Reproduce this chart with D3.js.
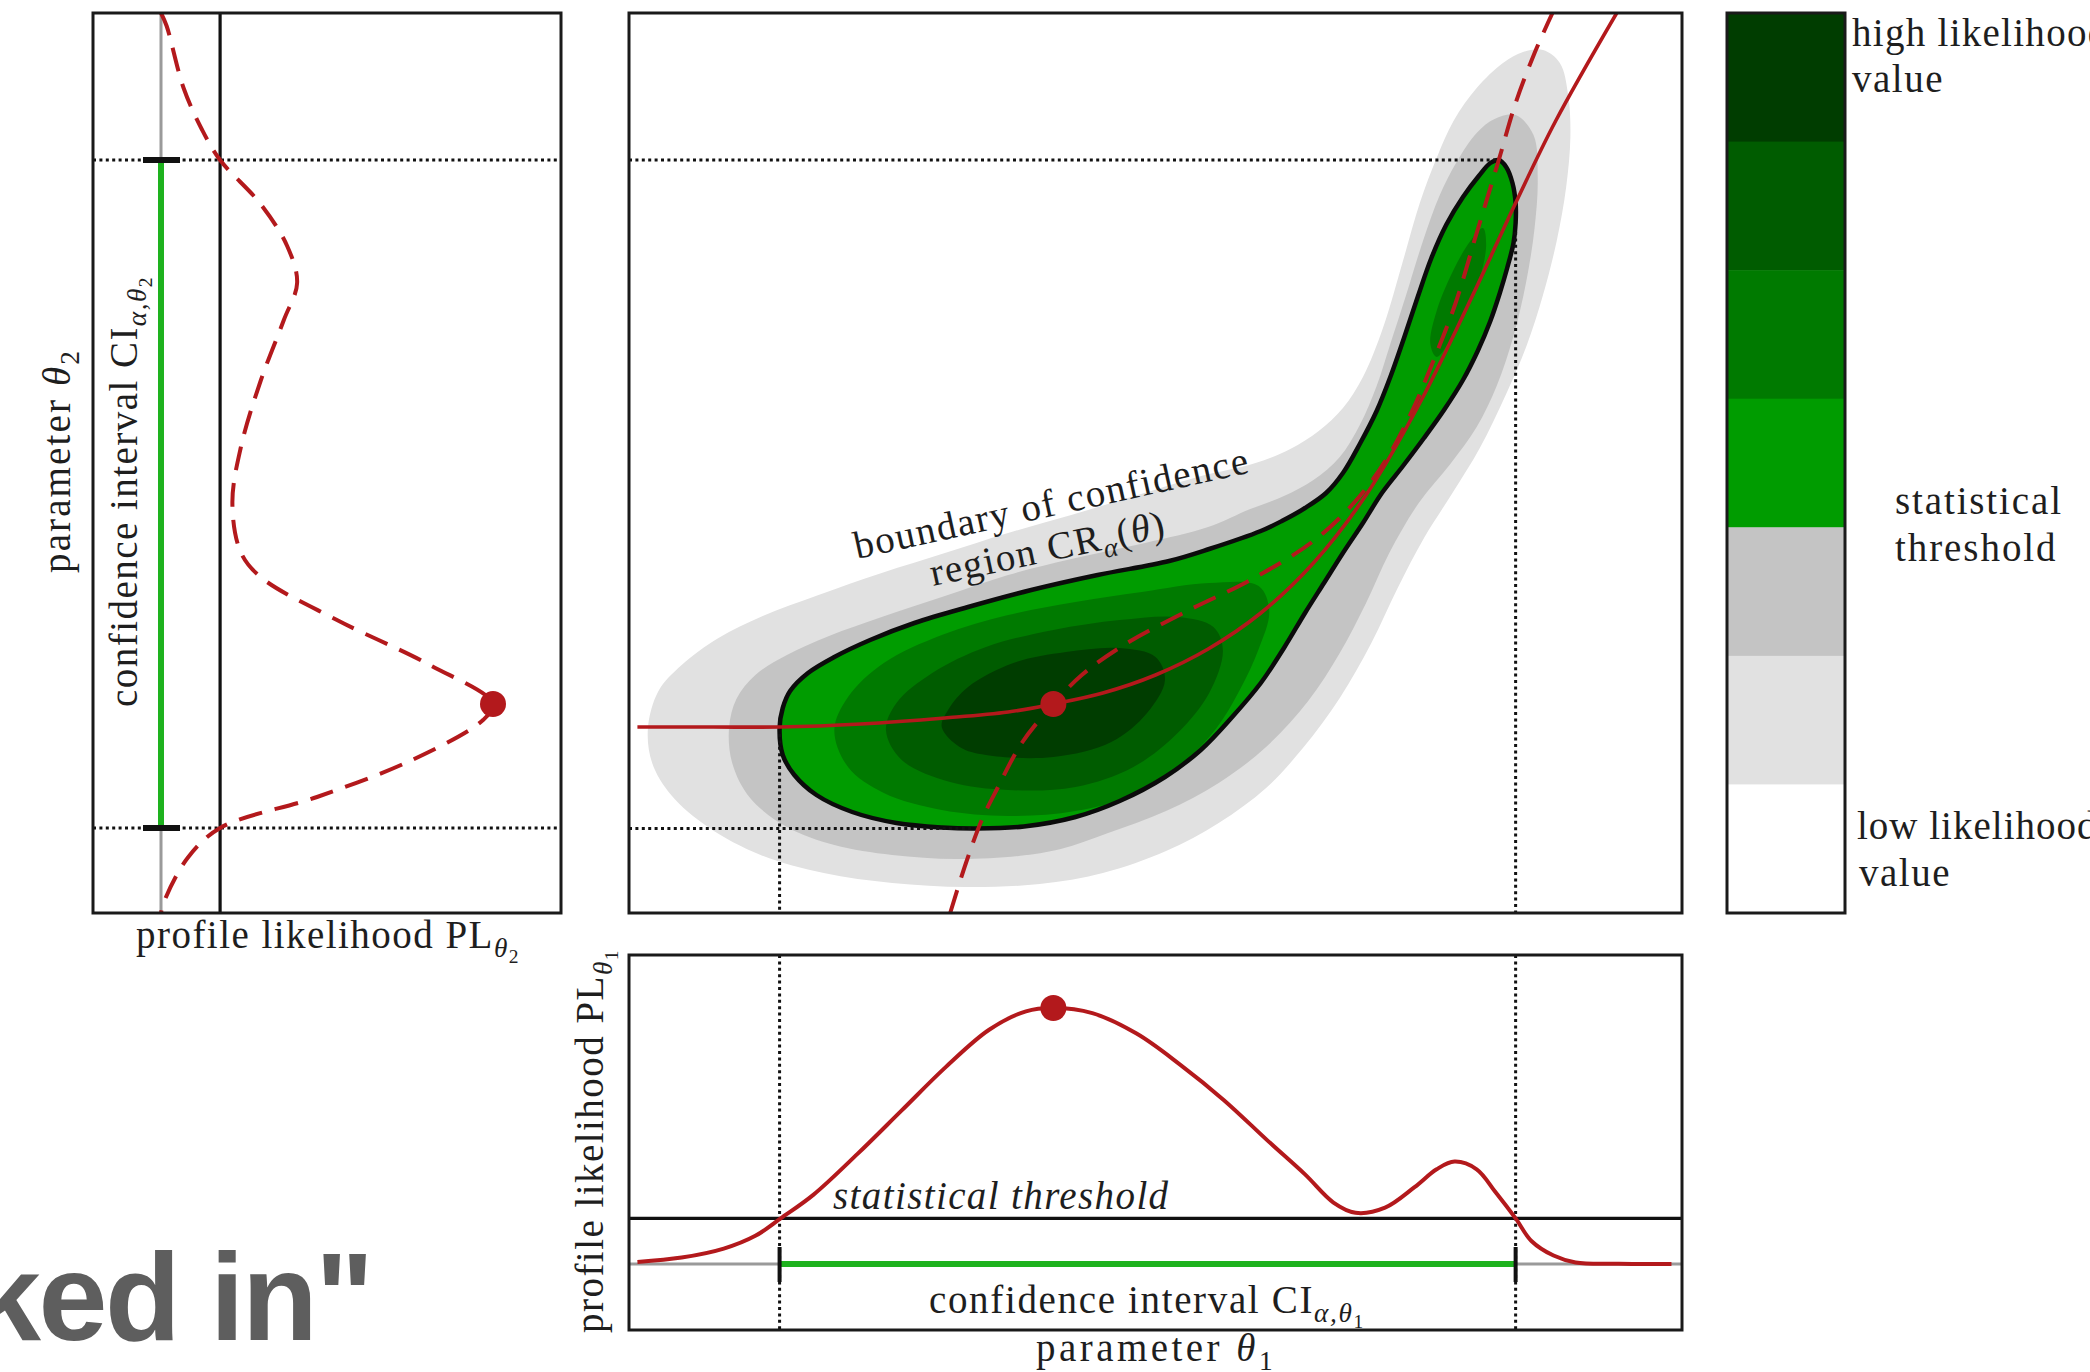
<!DOCTYPE html>
<html>
<head>
<meta charset="utf-8">
<script src="https://cdn.jsdelivr.net/npm/d3@7"></script>
<style>
  html, body { margin: 0; padding: 0; background: #fff; }
  svg { display: block; }
</style>
</head>
<body>
<svg id="fig" width="2090" height="1372"></svg>
<script>
// ---------------------------------------------------------------
// Profile likelihood of theta1 (bottom panel)
const pl1Theta1 = [0.08, 0.5, 0.9, 1.2, 1.44, 1.75, 2.17, 2.59, 3.01, 3.42, 3.77, 4.03, 4.40, 4.82, 5.23, 5.65, 6.07, 6.42, 6.69, 6.90, 7.18, 7.46, 7.67, 7.84, 8.05, 8.23, 8.42, 8.57, 8.78, 8.99, 9.40, 9.90];
const pl1Value  = [0.008, 0.025, 0.06, 0.11, 0.178, 0.27, 0.43, 0.60, 0.77, 0.915, 0.987, 1.0, 0.98, 0.90, 0.78, 0.64, 0.48, 0.35, 0.24, 0.20, 0.22, 0.30, 0.37, 0.40, 0.37, 0.28, 0.178, 0.09, 0.033, 0.006, 0.001, 0.0];

// Profile likelihood of theta2 (left panel)
const pl2Theta2 = [9.0, 8.87, 8.25, 7.83, 7.53, 7.09, 6.67, 6.30, 5.93, 5.32, 4.65, 4.10, 3.61, 3.36, 2.93, 2.48, 2.09, 1.93, 1.53, 1.16, 0.85, 0.55, 0.12, 0.0];
const pl2Value  = [0.0, 0.017, 0.068, 0.124, 0.178, 0.30, 0.38, 0.41, 0.37, 0.30, 0.24, 0.215, 0.24, 0.30, 0.53, 0.81, 1.0, 0.97, 0.756, 0.47, 0.178, 0.08, 0.01, 0.0];

// Statistical threshold, maximum likelihood estimate, confidence intervals
const threshold = 0.178;
const mle = [4.03, 2.09];
const ciTheta1 = [1.43, 8.42];
const ciTheta2 = [0.85, 7.53];
// points where the confidence region touches its bounding box
const regionLeft = [1.43, 1.85];
const regionRight = [8.42, 6.85];
const regionTop = [8.26, 7.53];
const regionBottom = [3.30, 0.845];

// Likelihood level sets in the (theta1, theta2) plane, outermost first
const contourOuter = [[0.18,1.85],[0.22,1.50],[0.40,1.18],[0.75,0.86],[1.25,0.58],[1.85,0.40],[2.5,0.30],[3.2,0.26],[3.9,0.29],[4.5,0.40],[5.1,0.62],[5.6,0.90],[6.05,1.25],[6.4,1.65],[6.75,2.15],[7.05,2.7],[7.3,3.25],[7.55,3.75],[7.82,4.2],[8.08,4.65],[8.33,5.19],[8.53,5.69],[8.68,6.18],[8.81,6.72],[8.90,7.26],[8.94,7.76],[8.92,8.17],[8.84,8.50],[8.68,8.63],[8.49,8.61],[8.30,8.50],[8.05,8.25],[7.83,7.92],[7.67,7.55],[7.51,7.10],[7.35,6.52],[7.16,5.85],[6.97,5.36],[6.78,5.05],[6.55,4.82],[6.28,4.64],[5.95,4.50],[5.4,4.36],[4.8,4.17],[4.2,3.98],[3.6,3.80],[3.0,3.60],[2.4,3.40],[1.8,3.18],[1.27,2.97],[0.85,2.75],[0.5,2.48],[0.28,2.22]];
const contourSecond = [[0.95,1.85],[0.98,1.50],[1.15,1.15],[1.50,0.86],[1.95,0.68],[2.5,0.58],[3.1,0.54],[3.7,0.57],[4.1,0.64],[4.55,0.80],[5.1,1.02],[5.6,1.30],[6.05,1.66],[6.45,2.12],[6.75,2.6],[7.0,3.1],[7.22,3.6],[7.5,4.1],[7.80,4.49],[8.05,4.86],[8.24,5.27],[8.40,5.77],[8.52,6.31],[8.60,6.85],[8.63,7.34],[8.59,7.78],[8.42,7.98],[8.22,7.94],[8.05,7.80],[7.86,7.51],[7.70,7.18],[7.54,6.72],[7.38,6.18],[7.23,5.69],[7.10,5.27],[6.94,4.88],[6.75,4.56],[6.50,4.33],[6.22,4.17],[5.9,4.04],[5.5,3.86],[4.9,3.70],[4.2,3.54],[3.6,3.38],[3.0,3.17],[2.4,2.96],[1.9,2.77],[1.5,2.58],[1.2,2.38],[1.02,2.14]];
const contourThreshold = [[1.43,1.85],[1.46,1.58],[1.57,1.38],[1.78,1.18],[2.12,1.01],[2.54,0.90],[2.97,0.855],[3.30,0.845],[3.75,0.865],[4.24,0.96],[4.66,1.12],[5.09,1.36],[5.43,1.63],[5.72,1.95],[6.0,2.3],[6.22,2.65],[6.42,3.0],[6.6,3.3],[6.78,3.6],[6.97,3.9],[7.15,4.2],[7.35,4.47],[7.55,4.75],[7.74,5.03],[7.92,5.33],[8.06,5.62],[8.18,5.92],[8.27,6.2],[8.34,6.45],[8.40,6.7],[8.42,6.9],[8.42,7.1],[8.39,7.3],[8.33,7.46],[8.26,7.53],[8.18,7.50],[8.07,7.37],[7.92,7.16],[7.76,6.88],[7.62,6.55],[7.49,6.16],[7.36,5.75],[7.23,5.36],[7.10,5.02],[6.94,4.69],[6.78,4.40],[6.62,4.20],[6.42,4.05],[6.2,3.92],[6.0,3.82],[5.51,3.64],[5.13,3.52],[4.45,3.38],[3.82,3.23],[3.22,3.06],[2.71,2.90],[2.29,2.73],[1.95,2.56],[1.70,2.40],[1.53,2.22],[1.46,2.05]];
const contourMid = [[1.95,1.83],[2.08,1.46],[2.42,1.20],[2.97,1.03],[3.60,0.97],[4.24,1.02],[4.79,1.18],[5.26,1.50],[5.58,1.85],[5.80,2.23],[5.98,2.64],[6.08,3.02],[5.98,3.27],[5.51,3.30],[4.87,3.21],[4.24,3.11],[3.60,2.98],[2.97,2.78],[2.42,2.50],[2.08,2.16]];
const contourMidArm = [[7.61,5.69],[7.67,6.02],[7.83,6.43],[7.99,6.72],[8.11,6.85],[8.14,6.68],[8.08,6.35],[7.95,6.02],[7.80,5.73],[7.67,5.56]];
const contourDark = [[2.44,1.83],[2.59,1.53],[3.05,1.31],[3.60,1.23],[4.24,1.26],[4.79,1.46],[5.21,1.80],[5.51,2.20],[5.64,2.63],[5.55,2.86],[5.21,2.96],[4.66,2.93],[4.03,2.83],[3.39,2.66],[2.88,2.40],[2.54,2.10]];
const contourDarkest = [[2.97,1.86],[3.14,1.66],[3.39,1.58],[4.03,1.56],[4.58,1.71],[4.92,2.00],[5.09,2.33],[5.00,2.56],[4.66,2.65],[4.15,2.61],[3.65,2.50],[3.22,2.26],[3.03,2.03]];

// Profile paths: theta2 maximising the likelihood for each theta1 (solid),
// theta1 maximising it for each theta2 (dashed)
const pathTheta1 = [[0.08,1.86],[0.8,1.86],[1.43,1.86],[2.2,1.89],[3.0,1.95],[3.6,2.01],[4.03,2.09],[4.5,2.2],[5.0,2.38],[5.5,2.64],[6.0,3.0],[6.5,3.5],[7.0,4.18],[7.5,5.08],[8.0,6.15],[8.42,7.1],[8.8,7.92],[9.38,9.0]];
const pathTheta2 = [[3.05,0.0],[3.2,0.5],[3.35,0.93],[3.5,1.25],[3.73,1.70],[4.03,2.09],[4.3,2.38],[4.7,2.68],[5.3,3.02],[5.9,3.33],[6.5,3.72],[6.9,4.12],[7.2,4.55],[7.45,5.05],[7.65,5.55],[7.85,6.1],[8.05,6.8],[8.26,7.53],[8.42,8.1],[8.6,8.6],[8.77,9.0]];

// Colour levels, high to low likelihood
const levelColors = ["#003d00", "#005c00", "#007a00", "#009c00", "#c4c4c4", "#e1e1e1", "#ffffff"];
const levelNames = ["l7", "l6", "l5", "l4", "l3", "l2", "l1"];

// ---------------------------------------------------------------
const svg = d3.select("#fig");
const SERIF = "'Liberation Serif', 'Times New Roman', serif";
const INK = "#1e1e1e";
const RED = "#b3191c";
const CIGREEN = "#1eb21e";

const leftBox   = {x0: 93,   x1: 561,  y0: 13,  y1: 913};
const mainBox   = {x0: 629,  x1: 1682, y0: 13,  y1: 913};
const bottomBox = {x0: 629,  x1: 1682, y0: 955, y1: 1330};
const barBox    = {x0: 1727, x1: 1845, y0: 13,  y1: 913};

const x1 = d3.scaleLinear().domain([0, 10]).range([mainBox.x0, mainBox.x1]);
const y2 = d3.scaleLinear().domain([0, 9]).range([mainBox.y1, mainBox.y0]);
const plX = d3.scaleLinear().domain([0, 1]).range([161, 493]);
const plY = d3.scaleLinear().domain([0, 1]).range([1264, 1008]);

const defs = svg.append("defs");
function clip(id, b) {
  defs.append("clipPath").attr("id", id).append("rect")
    .attr("x", b.x0).attr("y", b.y0).attr("width", b.x1 - b.x0).attr("height", b.y1 - b.y0);
}
clip("clipLeft", leftBox); clip("clipMain", mainBox); clip("clipBottom", bottomBox);

const dotted = sel => sel.attr("stroke", "#111").attr("stroke-width", 3).attr("stroke-dasharray", "3,3.4").attr("fill", "none");

function frame(b) {
  svg.append("rect").attr("x", b.x0).attr("y", b.y0)
    .attr("width", b.x1 - b.x0).attr("height", b.y1 - b.y0)
    .attr("fill", "none").attr("stroke", "#1a1a1a").attr("stroke-width", 3);
}

// text with sub/superscript pieces
function mathText(parent, parts, o) {
  const fs = o.size || 39;
  const t = parent.append("text")
    .attr("font-family", SERIF).attr("font-size", fs).attr("fill", INK)
    .attr("text-anchor", o.anchor || "start")
    .attr("transform", o.transform)
    .attr("font-style", o.italic ? "italic" : "normal");
  let cur = 0;
  parts.forEach(p => {
    const lvl = p.sub || 0;
    const off = [0, 0.22 * fs, 0.38 * fs][lvl];
    const size = [fs, 0.7 * fs, 0.5 * fs][lvl];
    t.append("tspan").attr("dy", off - cur).attr("font-size", size)
      .attr("font-style", p.it ? "italic" : null).text(p.t);
    cur = off;
  });
  if (o.width) {
    const w = t.node().getBBox().width;
    const n = t.node().textContent.length;
    t.style("letter-spacing", ((o.width - w) / n) + "px");
  }
  return t;
}

// ---------------------------------------------------------------
// Main panel: likelihood levels
const gMain = svg.append("g").attr("clip-path", "url(#clipMain)");
const ring = d3.line().x(d => x1(d[0])).y(d => y2(d[1])).curve(d3.curveCatmullRomClosed.alpha(0.5));
const fills = [
  [contourOuter, levelColors[5]],
  [contourSecond, levelColors[4]],
  [contourThreshold, levelColors[3]],
  [contourMid, levelColors[2]],
  [contourMidArm, levelColors[2]],
  [contourDark, levelColors[1]],
  [contourDarkest, levelColors[0]]
];
gMain.selectAll("path.level").data(fills).join("path").attr("class", "level")
  .attr("d", d => ring(d[0])).attr("fill", d => d[1]).attr("stroke", "none");
gMain.append("path").attr("d", ring(contourThreshold))
  .attr("fill", "none").attr("stroke", "#0b0b0b").attr("stroke-width", 4.5);

// guides to the confidence interval limits
gMain.append("line").call(dotted)
  .attr("x1", mainBox.x0).attr("x2", x1(regionTop[0])).attr("y1", y2(regionTop[1])).attr("y2", y2(regionTop[1]));
gMain.append("line").call(dotted)
  .attr("x1", mainBox.x0).attr("x2", x1(regionBottom[0])).attr("y1", y2(regionBottom[1])).attr("y2", y2(regionBottom[1]));
gMain.append("line").call(dotted)
  .attr("x1", x1(regionLeft[0])).attr("x2", x1(regionLeft[0])).attr("y1", y2(regionLeft[1]) + 6).attr("y2", mainBox.y1);
gMain.append("line").call(dotted)
  .attr("x1", x1(regionRight[0])).attr("x2", x1(regionRight[0])).attr("y1", y2(regionRight[1]) + 4).attr("y2", mainBox.y1);

// profile paths
const open = d3.line().x(d => x1(d[0])).y(d => y2(d[1])).curve(d3.curveCatmullRom.alpha(0.5));
gMain.append("path").attr("d", open(pathTheta2)).attr("fill", "none")
  .attr("stroke", RED).attr("stroke-width", 4).attr("stroke-dasharray", "24,13");
gMain.append("path").attr("d", open(pathTheta1)).attr("fill", "none")
  .attr("stroke", RED).attr("stroke-width", 3.6);
gMain.append("circle").attr("cx", x1(mle[0])).attr("cy", y2(mle[1])).attr("r", 13).attr("fill", RED);

mathText(svg, [{t: "boundary of confidence"}], {transform: "translate(857,559) rotate(-12.4)", width: 404});
mathText(svg, [{t: "region CR"}, {t: "α", sub: 1, it: true}, {t: "("}, {t: "θ", it: true}, {t: ")"}],
  {transform: "translate(933,586) rotate(-12)", width: 240});
frame(mainBox);

// ---------------------------------------------------------------
// Left panel: profile likelihood of theta2
const gLeft = svg.append("g").attr("clip-path", "url(#clipLeft)");
gLeft.append("line").attr("x1", plX(0)).attr("x2", plX(0)).attr("y1", leftBox.y0).attr("y2", leftBox.y1)
  .attr("stroke", "#9a9a9a").attr("stroke-width", 3);
gLeft.append("line").attr("x1", plX(threshold)).attr("x2", plX(threshold)).attr("y1", leftBox.y0).attr("y2", leftBox.y1)
  .attr("stroke", "#111").attr("stroke-width", 3.2);
ciTheta2.forEach(v => {
  gLeft.append("line").call(dotted).attr("x1", leftBox.x0).attr("x2", leftBox.x1).attr("y1", y2(v)).attr("y2", y2(v));
});
gLeft.append("line").attr("x1", plX(0)).attr("x2", plX(0)).attr("y1", y2(ciTheta2[0])).attr("y2", y2(ciTheta2[1]))
  .attr("stroke", CIGREEN).attr("stroke-width", 6);
ciTheta2.forEach(v => {
  gLeft.append("line").attr("x1", plX(0) - 18).attr("x2", plX(0) + 19).attr("y1", y2(v)).attr("y2", y2(v))
    .attr("stroke", "#111").attr("stroke-width", 6);
});
const pl2Line = d3.line().x(d => plX(d[1])).y(d => y2(d[0])).curve(d3.curveCatmullRom.alpha(0.5));
gLeft.append("path").attr("d", pl2Line(d3.zip(pl2Theta2, pl2Value))).attr("fill", "none")
  .attr("stroke", RED).attr("stroke-width", 4).attr("stroke-dasharray", "24,13");
gLeft.append("circle").attr("cx", plX(1)).attr("cy", y2(mle[1])).attr("r", 13).attr("fill", RED);
frame(leftBox);

mathText(svg, [{t: "parameter "}, {t: "θ", it: true}, {t: "2", sub: 1}], {transform: "translate(70,573) rotate(-90)", width: 224});
mathText(svg, [{t: "confidence interval CI"}, {t: "α,θ", sub: 1, it: true}, {t: "2", sub: 2}], {transform: "translate(137,707) rotate(-90)", width: 431});
mathText(svg, [{t: "profile likelihood PL"}, {t: "θ", sub: 1, it: true}, {t: "2", sub: 2}], {transform: "translate(136,948)", width: 384});

// ---------------------------------------------------------------
// Bottom panel: profile likelihood of theta1
const gBot = svg.append("g").attr("clip-path", "url(#clipBottom)");
ciTheta1.forEach(v => {
  gBot.append("line").call(dotted).attr("x1", x1(v)).attr("x2", x1(v)).attr("y1", bottomBox.y0).attr("y2", bottomBox.y1);
});
gBot.append("line").attr("x1", bottomBox.x0).attr("x2", bottomBox.x1).attr("y1", plY(0)).attr("y2", plY(0))
  .attr("stroke", "#9a9a9a").attr("stroke-width", 3);
gBot.append("line").attr("x1", bottomBox.x0).attr("x2", bottomBox.x1).attr("y1", plY(threshold)).attr("y2", plY(threshold))
  .attr("stroke", "#111").attr("stroke-width", 3.2);
gBot.append("line").attr("x1", x1(ciTheta1[0])).attr("x2", x1(ciTheta1[1])).attr("y1", plY(0)).attr("y2", plY(0))
  .attr("stroke", CIGREEN).attr("stroke-width", 6);
ciTheta1.forEach(v => {
  gBot.append("line").attr("x1", x1(v)).attr("x2", x1(v)).attr("y1", plY(0) - 17).attr("y2", plY(0) + 18)
    .attr("stroke", "#111").attr("stroke-width", 4);
});
const pl1Line = d3.line().x(d => x1(d[0])).y(d => plY(d[1])).curve(d3.curveCatmullRom.alpha(0.5));
gBot.append("path").attr("d", pl1Line(d3.zip(pl1Theta1, pl1Value))).attr("fill", "none")
  .attr("stroke", RED).attr("stroke-width", 4);
gBot.append("circle").attr("cx", x1(mle[0])).attr("cy", plY(1)).attr("r", 13).attr("fill", RED);
frame(bottomBox);

mathText(svg, [{t: "statistical threshold"}], {transform: "translate(833,1209)", italic: true, width: 337});
mathText(svg, [{t: "confidence interval CI"}, {t: "α,θ", sub: 1, it: true}, {t: "1", sub: 2}], {transform: "translate(929,1313)", width: 436});
mathText(svg, [{t: "parameter "}, {t: "θ", it: true}, {t: "1", sub: 1}], {transform: "translate(1036,1361)", width: 240});
mathText(svg, [{t: "profile likelihood PL"}, {t: "θ", sub: 1, it: true}, {t: "1", sub: 2}], {transform: "translate(603,1333) rotate(-90)", width: 384});

// ---------------------------------------------------------------
// Colour key
const bandY = d3.scaleBand().domain(levelNames).range([barBox.y0, barBox.y1]).padding(0);
svg.selectAll("rect.band").data(levelNames).join("rect").attr("class", "band")
  .attr("x", barBox.x0).attr("width", barBox.x1 - barBox.x0)
  .attr("y", d => bandY(d)).attr("height", bandY.bandwidth() + 0.5)
  .attr("fill", (d, i) => levelColors[i]);
frame(barBox);

mathText(svg, [{t: "high likelihood"}], {transform: "translate(1852,46)", width: 257});
mathText(svg, [{t: "value"}], {transform: "translate(1852,92)", width: 92});
mathText(svg, [{t: "statistical"}], {transform: "translate(1895,514)", width: 168});
mathText(svg, [{t: "threshold"}], {transform: "translate(1895,561)", width: 163});
mathText(svg, [{t: "low likelihood"}], {transform: "translate(1857,839)", width: 241});
mathText(svg, [{t: "value"}], {transform: "translate(1859,886)", width: 92});

// ---------------------------------------------------------------
svg.append("text").attr("x", -28).attr("y", 1340)
  .attr("font-family", "'Liberation Sans', Arial, sans-serif").attr("font-weight", "bold")
  .attr("font-size", 124).attr("fill", "#5e5e5e").style("letter-spacing", "-2.5px")
  .text("ked in\"");
</script>
</body>
</html>
